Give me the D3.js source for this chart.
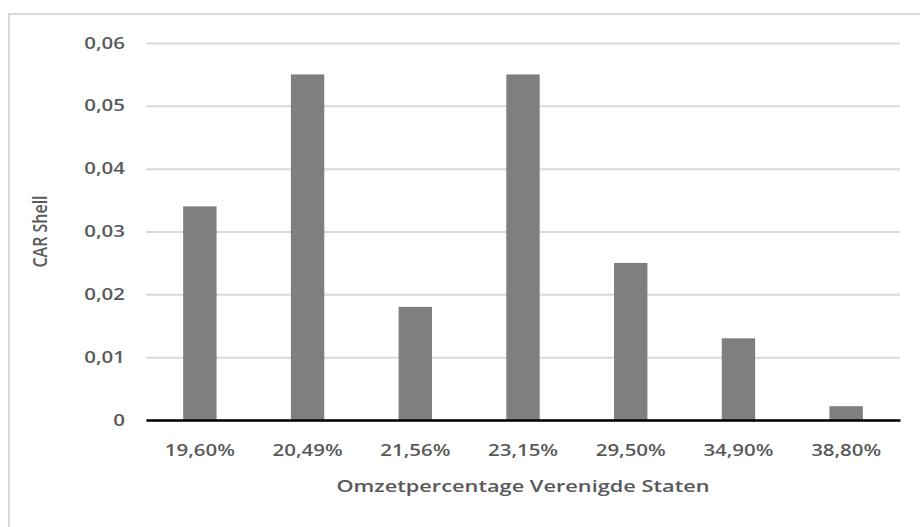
<!DOCTYPE html>
<html>
<head>
<meta charset="utf-8">
<script src="https://cdn.jsdelivr.net/npm/d3@7"></script>
<style>
  html, body { margin: 0; padding: 0; background: #fff; }
  svg { display: block; }
  text { font-family: "Open Sans", "Noto Sans", sans-serif; fill: #595959; }
</style>
</head>
<body>
<svg id="chart" width="920" height="527"></svg>
<script>
// Revenue share in the United States vs. cumulative abnormal return for Shell
const categories = ["19,60%", "20,49%", "21,56%", "23,15%", "29,50%", "34,90%", "38,80%"];
const carValues = [0.034, 0.055, 0.018, 0.055, 0.025, 0.013, 0.0022];
const yTicks = [0, 0.01, 0.02, 0.03, 0.04, 0.05, 0.06];
const xTitle = "Omzetpercentage Verenigde Staten";
const yTitle = "CAR Shell";

const svg = d3.select("#chart");
const W = 920, H = 527;
const margin = { left: 146, right: 20, top: 43, bottom: 107 };
const stretch = 1.28;      // wide text setting used for every label
const labelFont = 16;
const labelWeight = 600;

// outer frame of the chart area
svg.append("rect")
  .attr("x", 9).attr("y", 14)
  .attr("width", W + 10).attr("height", H + 10)
  .attr("fill", "none")
  .attr("stroke", "#d9d9d9")
  .attr("stroke-width", 2);

const x = d3.scaleBand()
  .domain(categories)
  .range([margin.left, W - margin.right])
  .paddingInner(0.69)
  .paddingOuter(0.345);

const y = d3.scaleLinear()
  .domain([0, 0.06])
  .range([H - margin.bottom, margin.top]);

const fmt = v => v === 0 ? "0" : d3.format(".2f")(v).replace(".", ",");

// horizontal gridlines and y tick labels
const yAxis = d3.axisLeft(y)
  .tickValues(yTicks)
  .tickSize(-(W - margin.right - margin.left))
  .tickFormat(fmt);

const gy = svg.append("g")
  .attr("transform", `translate(${margin.left},0)`)
  .call(yAxis);
gy.select(".domain").remove();
gy.selectAll(".tick line")
  .attr("stroke", "#d9d9d9")
  .attr("stroke-width", 2);
gy.selectAll(".tick text")
  .attr("x", 0)
  .attr("transform", `translate(-21,0) scale(${stretch},1)`)
  .style("font-size", labelFont + "px")
  .style("font-weight", labelWeight)
  .style("fill", "#595959");

// bars
svg.append("g")
  .selectAll("rect")
  .data(carValues)
  .join("rect")
  .attr("x", (d, i) => x(categories[i]))
  .attr("y", d => y(d))
  .attr("width", x.bandwidth())
  .attr("height", d => y(0) - y(d))
  .attr("fill", "#7f7f7f");

// category axis
const xAxis = d3.axisBottom(x).tickSize(0).tickPadding(0);
const gx = svg.append("g")
  .attr("transform", `translate(0,${y(0)})`)
  .call(xAxis);
gx.select(".domain")
  .attr("stroke", "#000")
  .attr("stroke-width", 2.5);
gx.selectAll(".tick text")
  .attr("y", 0).attr("dy", null)
  .attr("transform", `translate(0,36) scale(${stretch},1)`)
  .style("font-size", labelFont + "px")
  .style("font-weight", labelWeight)
  .style("fill", "#595959");

// axis titles
svg.append("text")
  .attr("transform", `translate(${(margin.left + W - margin.right) / 2},492) scale(${stretch},1)`)
  .attr("text-anchor", "middle")
  .style("font-size", "17px")
  .style("font-weight", labelWeight)
  .text(xTitle);

svg.append("text")
  .attr("transform", `translate(47,${(y(0) + y(0.06)) / 2}) scale(${stretch},1) rotate(-90)`)
  .attr("text-anchor", "middle")
  .style("font-size", "16px")
  .style("font-weight", labelWeight)
  .text(yTitle);
</script>
</body>
</html>
